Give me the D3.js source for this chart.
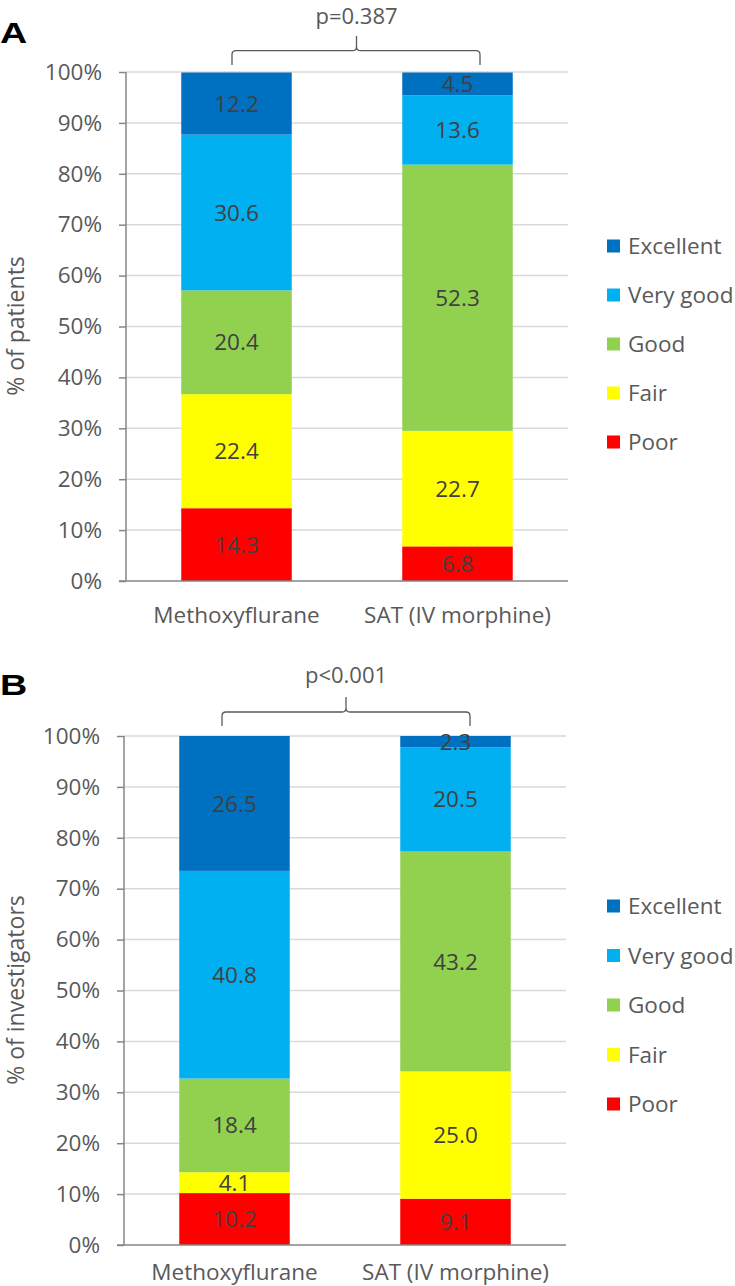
<!DOCTYPE html>
<html>
<head>
<meta charset="utf-8">
<script src="https://cdn.jsdelivr.net/npm/d3@7"></script>
<style>
  html, body { margin: 0; padding: 0; background: #ffffff; }
  svg { display: block; }
  text { font-family: "Open Sans", sans-serif; }
</style>
</head>
<body>
<svg id="chart" width="735" height="1286"></svg>
<script>
// ---- data ----
const categories = ["Methoxyflurane", "SAT (IV morphine)"];
const ratings = ["Poor", "Fair", "Good", "Very good", "Excellent"];
const legendOrder = ["Excellent", "Very good", "Good", "Fair", "Poor"];
const ratingColors = ["#FF0000", "#FFFF00", "#92D050", "#00B0F0", "#0070C0"];

// panel A: % of patients (Poor, Fair, Good, Very good, Excellent)
const patientsMethoxyflurane = [14.3, 22.4, 20.4, 30.6, 12.2];
const patientsSAT = [6.8, 22.7, 52.3, 13.6, 4.5];
// panel B: % of investigators
const investigatorsMethoxyflurane = [10.2, 4.1, 18.4, 40.8, 26.5];
const investigatorsSAT = [9.1, 25.0, 43.2, 20.5, 2.3];

const yTicks = [0, 10, 20, 30, 40, 50, 60, 70, 80, 90, 100];
const panelLetters = ["A", "B"];
const yTitles = ["% of patients", "% of investigators"];
const pValues = ["p=0.387", "p<0.001"];

// ---- drawing ----
const svg = d3.select("#chart");
const color = d3.scaleOrdinal().domain(ratings).range(ratingColors);

function buildRows(methoxy, sat) {
  return categories.map((c, i) => {
    const vals = i === 0 ? methoxy : sat;
    const row = { category: c };
    ratings.forEach((r, j) => row[r] = vals[j]);
    return row;
  });
}

const panels = [
  { rows: buildRows(patientsMethoxyflurane, patientsSAT), top: 72, bottom: 581, left: 126, right: 568,
    letterY: 43, pY: 24, braceL: 232, braceR: 480, braceMid: 356.5, braceTop: 36, braceH: 50.7, braceBot: 65,
    legendY0: 246, legendStep: 49, catY: 623, titleY: 326 },
  { rows: buildRows(investigatorsMethoxyflurane, investigatorsSAT), top: 736, bottom: 1245, left: 124, right: 566,
    letterY: 695, pY: 683, braceL: 222, braceR: 470, braceMid: 346, braceTop: 697, braceH: 712, braceBot: 726,
    legendY0: 906, legendStep: 49.5, catY: 1280, titleY: 990 }
];

panels.forEach((p, pi) => {
  const g = svg.append("g");
  const x = d3.scaleBand().domain(categories).range([p.left, p.right]).paddingInner(0.5).paddingOuter(0.25);
  const y = d3.scaleLinear().domain([0, 100]).range([p.bottom, p.top]);

  // gridlines
  g.append("g").selectAll("line").data(yTicks.filter(t => t > 0)).join("line")
    .attr("x1", p.left).attr("x2", p.right)
    .attr("y1", d => y(d)).attr("y2", d => y(d))
    .attr("stroke", "#d9d9d9").attr("stroke-width", 1.5);

  // y axis
  const yAxis = d3.axisLeft(y).tickValues(yTicks).tickFormat(d => d + "%").tickSize(7).tickPadding(17);
  const ya = g.append("g").attr("transform", `translate(${p.left},0)`).call(yAxis);
  ya.select(".domain").attr("stroke", "#868686").attr("stroke-width", 1.5).attr("d", `M0,${p.top}V${p.bottom}`);
  ya.selectAll(".tick line").attr("stroke", "#868686").attr("stroke-width", 1.5);
  ya.selectAll(".tick text").attr("fill", "#595959").style("font-size", "22.5px").style("font-family", "'Open Sans', sans-serif");

  // stacked bars
  const stack = d3.stack().keys(ratings);
  const series = stack(p.rows);
  const layers = g.append("g").selectAll("g").data(series).join("g").attr("fill", d => color(d.key));
  layers.selectAll("rect").data(d => d).join("rect")
    .attr("x", d => x(d.data.category))
    .attr("width", x.bandwidth())
    .attr("y", d => y(Math.min(d[1], 100)))
    .attr("height", d => y(d[0]) - y(Math.min(d[1], 100)));

  // data labels
  const lbl = g.append("g");
  series.forEach(s => {
    s.forEach(d => {
      const v = d[1] - d[0];
      lbl.append("text")
        .attr("x", x(d.data.category) + x.bandwidth() / 2)
        .attr("y", (y(d[0]) + y(Math.min(d[1], 100))) / 2)
        .attr("dy", "0.36em")
        .attr("text-anchor", "middle")
        .attr("fill", "#404040")
        .style("font-size", "22.5px")
        .text(v.toFixed(1));
    });
  });

  // x axis baseline
  g.append("line").attr("x1", p.left - 7).attr("x2", p.right)
    .attr("y1", y(0)).attr("y2", y(0))
    .attr("stroke", "#868686").attr("stroke-width", 1.5);

  // category labels
  g.append("g").selectAll("text").data(categories).join("text")
    .attr("x", d => x(d) + x.bandwidth() / 2)
    .attr("y", p.catY)
    .attr("text-anchor", "middle")
    .attr("fill", "#595959")
    .style("font-size", "22.5px")
    .text(d => d);

  // y title
  g.append("text")
    .attr("transform", `translate(24,${p.titleY}) rotate(-90)`)
    .attr("text-anchor", "middle")
    .attr("fill", "#595959")
    .style("font-size", "23px")
    .text(yTitles[pi]);

  // panel letter
  g.append("text")
    .attr("transform", `translate(0,${p.letterY}) scale(1.3,1)`)
    .attr("fill", "#000")
    .style("font-family", "'Liberation Sans', Arial, sans-serif")
    .style("font-weight", "bold")
    .style("font-size", "29px")
    .text(panelLetters[pi]);

  // brace
  const r = 4;
  const path = `M${p.braceL},${p.braceBot} V${p.braceH + r} Q${p.braceL},${p.braceH} ${p.braceL + r},${p.braceH} H${p.braceMid - r} Q${p.braceMid},${p.braceH} ${p.braceMid},${p.braceH - r} V${p.braceTop}` +
               ` M${p.braceMid},${p.braceH - r} Q${p.braceMid},${p.braceH} ${p.braceMid + r},${p.braceH} H${p.braceR - r} Q${p.braceR},${p.braceH} ${p.braceR},${p.braceH + r} V${p.braceBot}`;
  g.append("path").attr("d", path).attr("fill", "none").attr("stroke", "#595959").attr("stroke-width", 1.3);

  g.append("text")
    .attr("x", p.braceMid).attr("y", p.pY)
    .attr("text-anchor", "middle")
    .attr("fill", "#595959")
    .style("font-size", "22px")
    .text(pValues[pi]);

  // legend
  const leg = g.append("g").selectAll("g").data(legendOrder).join("g")
    .attr("transform", (d, i) => `translate(607,${p.legendY0 + i * p.legendStep})`);
  leg.append("rect").attr("x", 0).attr("y", -6.5).attr("width", 13).attr("height", 13).attr("fill", d => color(d));
  leg.append("text").attr("x", 21).attr("y", 0).attr("dy", "0.36em")
    .attr("fill", "#595959").style("font-size", "22.5px").text(d => d);
});
</script>
</body>
</html>
